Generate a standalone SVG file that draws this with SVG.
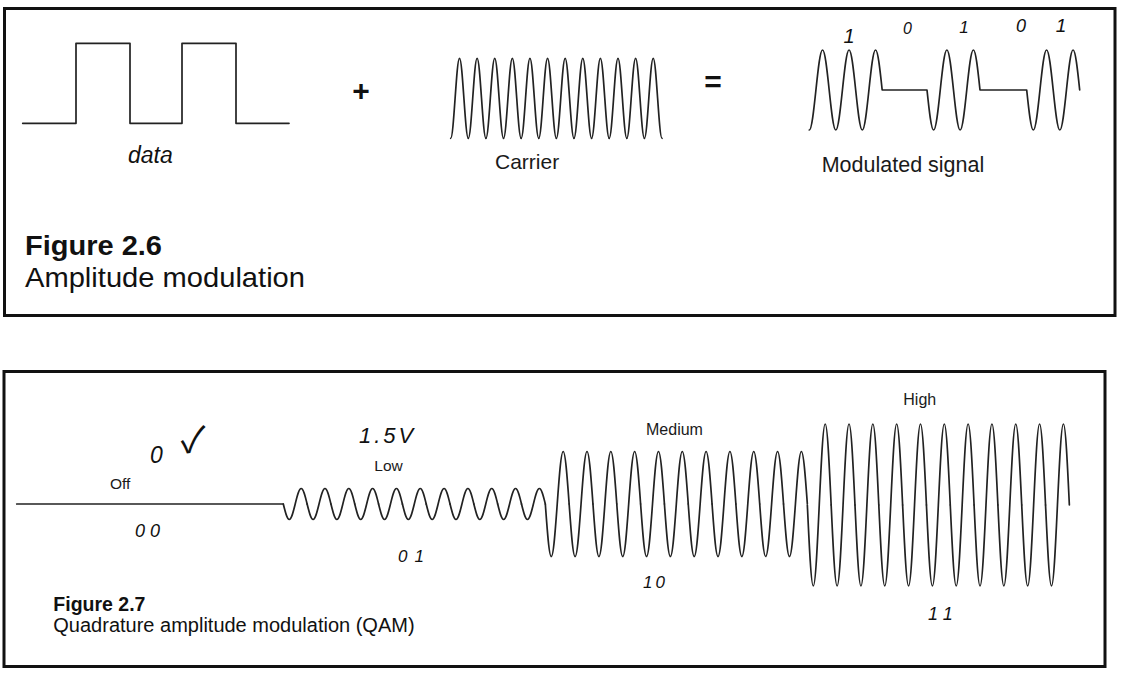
<svg xmlns="http://www.w3.org/2000/svg" xmlns:xlink="http://www.w3.org/1999/xlink" width="1123" height="675" viewBox="0 0 1123 675">
<style>
.frame{fill:none;stroke:#111;stroke-width:3}
.wave{fill:none;stroke:#222;stroke-width:1.7;stroke-linecap:round;stroke-linejoin:round}
.lbl{font-family:"Liberation Sans",Arial,sans-serif;fill:#1a1a1a}
.cap{font-family:"Liberation Sans",Arial,sans-serif;fill:#111}
.op{font-family:"Liberation Sans",Arial,sans-serif;font-weight:bold;font-size:30px;fill:#111;text-anchor:middle}
.hand{font-family:"Liberation Sans","DejaVu Sans",sans-serif;font-style:italic;fill:#111}
.tick{font-family:"Noto Sans CJK JP","DejaVu Sans",sans-serif;fill:#111}
</style>
<defs>
<path id="cc" class="wave" d="M0,40 c 1.5933,0 2.9667,-19.51 4.4025,-40 s 2.8092,-40 4.4025,-40 s 2.9667,19.51 4.4025,40 s 2.8092,40 4.4025,40"/>
<path id="lowc" class="wave" d="M0,0 c 1.9422,7.941 3.7997,15.5 5.955,15.5 s 4.0128,-7.559 5.955,-15.5 s 3.7997,-15.5 5.955,-15.5 s 4.0128,7.559 5.955,15.5"/>
<path id="medc" class="wave" d="M0,0 c 1.9422,26.896 3.7997,52.5 5.955,52.5 s 4.0128,-25.604 5.955,-52.5 s 3.7997,-52.5 5.955,-52.5 s 4.0128,25.604 5.955,52.5"/>
<path id="highc" class="wave" d="M0,0 c 1.9422,41.496 3.7997,81 5.955,81 s 4.0128,-39.504 5.955,-81 s 3.7997,-81 5.955,-81 s 4.0128,39.504 5.955,81"/>
</defs>
<rect width="1123" height="675" fill="#fff"/>

<!-- Figure 2.6 -->
<g id="fig26-frame"><rect class="frame" x="4.5" y="8.5" width="1110.5" height="307"/></g>

<g id="data-signal">
<path class="wave" d="M22.7,123.3 H76 V43.3 H130 V123.3 H182 V43.3 H236 V123.3 H289"/>
<text class="hand" x="128" y="163" font-size="23">data</text>
</g>

<g id="plus"><text class="op" x="361" y="101">+</text></g>

<g id="carrier">
<use xlink:href="#cc" x="450.70" y="98.3"/>
<use xlink:href="#cc" x="468.31" y="98.3"/>
<use xlink:href="#cc" x="485.92" y="98.3"/>
<use xlink:href="#cc" x="503.53" y="98.3"/>
<use xlink:href="#cc" x="521.14" y="98.3"/>
<use xlink:href="#cc" x="538.75" y="98.3"/>
<use xlink:href="#cc" x="556.36" y="98.3"/>
<use xlink:href="#cc" x="573.97" y="98.3"/>
<use xlink:href="#cc" x="591.58" y="98.3"/>
<use xlink:href="#cc" x="609.19" y="98.3"/>
<use xlink:href="#cc" x="626.80" y="98.3"/>
<use xlink:href="#cc" x="644.41" y="98.3"/>
<text class="lbl" x="495" y="169" font-size="21">Carrier</text>
</g>

<g id="equals"><text class="op" x="713" y="92">=</text></g>

<g id="modulated">
<path class="wave" d="M809.3,130 c 2.3977,0 4.4643,-19.51 6.625,-40 s 4.2273,-40 6.625,-40 s 4.4643,19.51 6.625,40 s 4.2273,40 6.625,40 s 4.4643,-19.51 6.625,-40 s 4.2273,-40 6.625,-40 s 4.4643,19.51 6.625,40 s 4.2273,40 6.625,40 s 4.4643,-19.51 6.625,-40 s 4.2273,-40 6.625,-40 s 4.4643,19.51 6.625,40
H927 c 2.1607,20.49 4.2273,40 6.625,40 s 4.4643,-19.51 6.625,-40 s 4.2273,-40 6.625,-40 s 4.4643,19.51 6.625,40 s 4.2273,40 6.625,40 s 4.4643,-19.51 6.625,-40 s 4.2273,-40 6.625,-40 s 4.4643,19.51 6.625,40
H1026.7 c 2.1607,20.49 4.2273,40 6.625,40 s 4.4643,-19.51 6.625,-40 s 4.2273,-40 6.625,-40 s 4.4643,19.51 6.625,40 s 4.2273,40 6.625,40 s 4.4643,-19.51 6.625,-40 s 4.2273,-40 6.625,-40 s 4.4643,19.51 6.625,40"/>
<text class="hand" x="849" y="43" font-size="20" text-anchor="middle">1</text>
<text class="hand" x="907.5" y="34" font-size="16" text-anchor="middle">0</text>
<text class="hand" x="964" y="33" font-size="17" text-anchor="middle">1</text>
<text class="hand" x="1021" y="32" font-size="18" text-anchor="middle">0</text>
<text class="hand" x="1061" y="32" font-size="19" text-anchor="middle">1</text>
<text class="lbl" x="821.7" y="171.7" font-size="21.5">Modulated signal</text>
</g>

<g id="fig26-caption">
<text class="cap" x="25" y="255" font-size="27" font-weight="bold" textLength="137" lengthAdjust="spacingAndGlyphs">Figure 2.6</text>
<text class="cap" x="25" y="287" font-size="28" textLength="280" lengthAdjust="spacingAndGlyphs">Amplitude modulation</text>
</g>

<!-- Figure 2.7 -->
<g id="fig27-frame"><rect class="frame" x="4" y="371.5" width="1101" height="295"/></g>

<g id="off-level">
<path class="wave" d="M16.7,504 H283.3"/>
<text class="lbl" x="110" y="489" font-size="15.5">Off</text>
<text class="hand" x="156.5" y="463" font-size="23" text-anchor="middle">0</text>
<text class="tick" x="193" y="453" font-size="36" text-anchor="middle">✓</text>
<text class="hand" x="150" y="537" font-size="18" letter-spacing="5" text-anchor="middle">00</text>
</g>

<g id="low-level">
<use xlink:href="#lowc" x="283.30" y="504"/>
<use xlink:href="#lowc" x="307.12" y="504"/>
<use xlink:href="#lowc" x="330.94" y="504"/>
<use xlink:href="#lowc" x="354.76" y="504"/>
<use xlink:href="#lowc" x="378.58" y="504"/>
<use xlink:href="#lowc" x="402.40" y="504"/>
<use xlink:href="#lowc" x="426.22" y="504"/>
<use xlink:href="#lowc" x="450.04" y="504"/>
<use xlink:href="#lowc" x="473.86" y="504"/>
<use xlink:href="#lowc" x="497.68" y="504"/>
<use xlink:href="#lowc" x="521.50" y="504"/>
<text class="lbl" x="374.3" y="470.7" font-size="15.5">Low</text>
<text class="hand" x="359" y="443" font-size="22" letter-spacing="3">1.5V</text>
<text class="hand" x="398" y="562" font-size="17" letter-spacing="7">01</text>
</g>

<g id="medium-level">
<use xlink:href="#medc" x="545.32" y="504"/>
<use xlink:href="#medc" x="569.14" y="504"/>
<use xlink:href="#medc" x="592.96" y="504"/>
<use xlink:href="#medc" x="616.78" y="504"/>
<use xlink:href="#medc" x="640.60" y="504"/>
<use xlink:href="#medc" x="664.42" y="504"/>
<use xlink:href="#medc" x="688.24" y="504"/>
<use xlink:href="#medc" x="712.06" y="504"/>
<use xlink:href="#medc" x="735.88" y="504"/>
<use xlink:href="#medc" x="759.70" y="504"/>
<use xlink:href="#medc" x="783.52" y="504"/>
<text class="lbl" x="646" y="435" font-size="16">Medium</text>
<text class="hand" x="643" y="588" font-size="17" letter-spacing="3">10</text>
</g>

<g id="high-level">
<use xlink:href="#highc" x="807.34" y="505"/>
<use xlink:href="#highc" x="831.16" y="505"/>
<use xlink:href="#highc" x="854.98" y="505"/>
<use xlink:href="#highc" x="878.80" y="505"/>
<use xlink:href="#highc" x="902.62" y="505"/>
<use xlink:href="#highc" x="926.44" y="505"/>
<use xlink:href="#highc" x="950.26" y="505"/>
<use xlink:href="#highc" x="974.08" y="505"/>
<use xlink:href="#highc" x="997.90" y="505"/>
<use xlink:href="#highc" x="1021.72" y="505"/>
<use xlink:href="#highc" x="1045.54" y="505"/>
<text class="lbl" x="903.3" y="405" font-size="16">High</text>
<text class="hand" x="928" y="620" font-size="18" letter-spacing="6">11</text>
</g>

<g id="fig27-caption">
<text class="cap" x="53.3" y="611" font-size="19.5" font-weight="bold">Figure 2.7</text>
<text class="cap" x="53.3" y="632" font-size="20">Quadrature amplitude modulation (QAM)</text>
</g>

<g id="connectors"/>
</svg>
